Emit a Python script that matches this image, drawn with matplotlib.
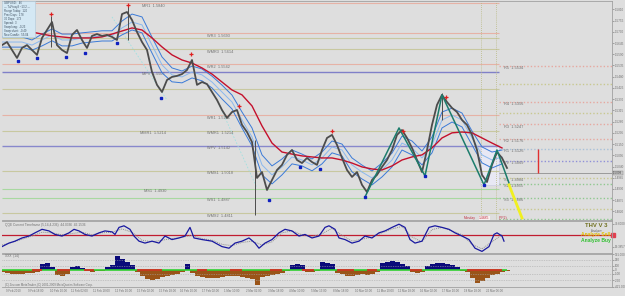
import matplotlib
matplotlib.use('Agg')
import matplotlib.pyplot as plt
from matplotlib.patches import Rectangle
import numpy as np

plt.rcParams['font.family'] = ['Liberation Sans', 'DejaVu Sans']

BG = '#dedede'
GRAY_TXT = '#707070'

# ---- price panel data (bar index, price) ----
close_x = np.arange(0, 506, 5)
close = [1.5635, 1.5650, 1.5611, 1.5572, 1.5621, 1.5635, 1.5611, 1.5587, 1.5670, 1.5709,
         1.5748, 1.5635, 1.5611, 1.5596, 1.5685, 1.5709, 1.5660, 1.5621, 1.5680, 1.5689,
         1.5680, 1.5685, 1.5675, 1.5660, 1.5787, 1.5797, 1.5758, 1.5699, 1.5650, 1.5611,
         1.5503, 1.5440, 1.5405, 1.5464, 1.5479, 1.5484, 1.5493, 1.5513, 1.5562, 1.5440,
         1.5454, 1.5444, 1.5405, 1.5366, 1.5317, 1.5278, 1.5307, 1.5317, 1.5244, 1.5209,
         1.5160, 1.4984, 1.5013, 1.4925, 1.4974, 1.5023, 1.5048, 1.5097, 1.5121, 1.5072,
         1.5057, 1.5082, 1.5062, 1.5048, 1.5121, 1.5180, 1.5195, 1.5146, 1.5082, 1.5023,
         1.4989, 1.5013, 1.4950, 1.4915, 1.4974, 1.4999, 1.5038, 1.5072, 1.5121, 1.5195,
         1.5219, 1.5180, 1.5131, 1.5072, 1.5013, 1.5121, 1.5244, 1.5342, 1.5391, 1.5356,
         1.5327, 1.5307, 1.5268, 1.5244, 1.5195, 1.5121, 1.4999, 1.4964, 1.5048, 1.5111,
         1.5082, 1.5033]

spike_x = [49, 126, 253, 440]
spike_high = [1.5778, 1.5827, 1.5170, 1.5400]
spike_low = [1.5626, 1.5660, 1.4803, 1.5268]

band_x = np.arange(0, 501, 10)
band_mid = [1.5650, 1.5650, 1.5650, 1.5635, 1.5660, 1.5685, 1.5660, 1.5660, 1.5670, 1.5675,
            1.5680, 1.5680, 1.5719, 1.5748, 1.5734, 1.5635, 1.5538, 1.5489, 1.5479, 1.5503,
            1.5489, 1.5454, 1.5405, 1.5356, 1.5268, 1.5185, 1.5048, 1.4999, 1.5038, 1.5087,
            1.5072, 1.5048, 1.5082, 1.5136, 1.5121, 1.5048, 1.5013, 1.4984, 1.5023, 1.5072,
            1.5155, 1.5131, 1.5082, 1.5146, 1.5268, 1.5292, 1.5268, 1.5180, 1.5097, 1.5072,
            1.5087]
band_half = [0.0025, 0.0025, 0.0025, 0.0025, 0.0029, 0.0029, 0.0029, 0.0029, 0.0025, 0.0025,
             0.0025, 0.0025, 0.0034, 0.0039, 0.0039, 0.0039, 0.0039, 0.0034, 0.0029, 0.0029,
             0.0029, 0.0029, 0.0034, 0.0034, 0.0039, 0.0044, 0.0049, 0.0044, 0.0039, 0.0034,
             0.0029, 0.0029, 0.0029, 0.0029, 0.0029, 0.0034, 0.0034, 0.0034, 0.0034, 0.0034,
             0.0034, 0.0034, 0.0034, 0.0039, 0.0039, 0.0034, 0.0034, 0.0034, 0.0039, 0.0039,
             0.0034]

ma_x = np.arange(30, 501, 10)
ma_red = [1.5699, 1.5689, 1.5680, 1.5675, 1.5670, 1.5670, 1.5670, 1.5675, 1.5689, 1.5704,
          1.5719, 1.5709, 1.5670, 1.5626, 1.5587, 1.5562, 1.5547, 1.5523, 1.5493, 1.5454,
          1.5415, 1.5391, 1.5337, 1.5239, 1.5155, 1.5111, 1.5101, 1.5092, 1.5087, 1.5082,
          1.5082, 1.5072, 1.5057, 1.5038, 1.5028, 1.5023, 1.5043, 1.5072, 1.5087, 1.5097,
          1.5131, 1.5180, 1.5205, 1.5209, 1.5205, 1.5180, 1.5155, 1.5131]

frac_up_x = [49, 126, 189, 237, 330, 401, 444]
frac_up = [1.5785, 1.5833, 1.5591, 1.5336, 1.5214, 1.5214, 1.5381]
frac_dn_x = [16, 35, 64, 83, 115, 159, 267, 298, 318, 363, 423, 482]
frac_dn = [1.5557, 1.5572, 1.5577, 1.5596, 1.5645, 1.5376, 1.4876, 1.5038, 1.5028, 1.4891,
           1.4994, 1.4950]

zigzag_x = [363, 397, 423, 440, 482, 495, 507]
zigzag = [1.4891, 1.5229, 1.4994, 1.5391, 1.4950, 1.5121, 1.4959]
proj_x = [507, 520]
proj = [1.4950, 1.4788]

# monthly / weekly pivots (solid, left part)
mw_names = ['MR1', 'WR3', '', 'WMR3', 'WR2', 'MPV', '', 'WR1', 'WMR1', 'WPV', 'WMS1', 'MS1', 'WS1', 'WMS2']
mw_levels = [1.5840, 1.5693, 1.5670, 1.5614, 1.5542, 1.5503, 1.5420, 1.5291, 1.5214, 1.5142,
             1.5018, 1.4930, 1.4887, 1.4811]
mw_colors = ['#e6b2a6', '#e6b2a6', '#c8c8a0', '#c8c8a0', '#e6b2a6', '#8080c8', '#c8c8a0',
             '#e6b2a6', '#c8c8a0', '#8888cc', '#c8c8a0', '#a8d8a0', '#a8d8a0', '#c8c8a0']

# daily pivots (dotted, right part)
d_names = ['R5', '', 'R4', '', 'R3', 'R2', 'R1', 'PV', 'S1', 'S2', 'S3', '', '']
d_levels = [1.5534, 1.5446, 1.5356, 1.5301, 1.5247, 1.5176, 1.5126, 1.5069, 1.4984, 1.4955,
            1.4886, 1.4831, 1.4783]
d_colors = ['#e6a8a0', '#c8c890', '#e6a8a0', '#c8c890', '#e6a8a0', '#e6a8a0', '#a8c0d8',
            '#9090d8', '#c8c890', '#90c890', '#90c890', '#c8c890', '#90c890']

last_price = 1.5008
price_ticks = [1.5810, 1.5755, 1.5700, 1.5645, 1.5590, 1.5535, 1.5480, 1.5425, 1.5370,
               1.5315, 1.5260, 1.5205, 1.5150, 1.5095, 1.5040, 1.4985, 1.4930, 1.4875, 1.4820]

info_lines = ['GBPUSD:   46', '--- TuProxy3 ~13.2 ---', 'Range Today:  120', 'Prev Days:  178',
              '30 Days:  173', 'Spread:  3', 'Swap long:  -0.23', 'Swap short:  -0.49',
              'New Candle:  55:04']

# ---- QQE oscillator ----
qqe_x = [0, 7, 13, 20, 27, 33, 40, 47, 53, 60, 67, 72, 77, 83, 90, 97, 103, 110, 113, 117,
         122, 128, 132, 137, 143, 150, 157, 163, 170, 177, 183, 188, 192, 200, 210, 220, 227,
         233, 240, 247, 253, 257, 263, 270, 277, 283, 290, 297, 303, 310, 317, 323, 327, 333,
         337, 343, 350, 357, 363, 370, 377, 383, 390, 397, 403, 408, 413, 420, 427, 433, 440,
         447, 453, 460, 467, 473, 480, 487, 492, 495, 500, 502]
qqe = [15, 26, 32, 42, 48, 58, 69, 64, 53, 48, 58, 69, 64, 53, 48, 58, 64, 61, 53, 75,
       80, 69, 48, 32, 26, 32, 26, 48, 37, 42, 48, 75, 42, 37, 32, 15, 10,
       26, 32, 42, 26, 10, 26, 37, 58, 69, 64, 48, 53, 42, 48, 75, 80, 69,
       42, 37, 26, 32, 48, 42, 58, 64, 75, 85, 75, 37, 26, 32, 75, 80, 75,
       69, 58, 48, 37, 10, 0, 15, 53, 58, 48, 32]
sig_x = np.arange(0, 501, 10)
qqe_sig = [20, 28, 38, 48, 60, 58, 52, 56, 60, 52, 58, 60, 70, 60, 35, 30, 35, 40, 44, 50,
           40, 35, 22, 18, 28, 32, 20, 30, 58, 64, 52, 46, 55, 72, 50, 32, 38, 45, 58, 70,
           78, 45, 30, 68, 75, 64, 52, 22, 8, 30, 52]

# ---- histogram ----
hist_x = np.arange(0, 506, 5)
hist = [-60, -80, -90, -100, -90, -80, -70, -50, 150, 180, 60, -120, -140, -100, 80, 90, 40,
        -30, -40, -30, -20, 60, 130, 330, 260, 200, 120, -60, -150, -230, -260, -220, -180,
        -150, -120, -100, -60, 140, -80, -150, -180, -200, -210, -190, -170, -160, -140, -150,
        -170, -200, -220, -380, -170, -140, -120, -100, -80, -30, 120, 140, 110, -40, -60, -30,
        190, 170, 140, -80, -110, -140, -150, -130, -100, -120, -90, -60, 170, 200, 210, 190,
        150, 100, -60, -70, -40, 90, 150, 170, 180, 150, 120, 80, -20, -40, -200, -330, -280,
        -200, -130, -90, -60, -30]
red_spans = [(30, 40), (55, 68), (82, 92), (135, 160), (195, 205), (228, 240), (268, 280),
             (300, 312), (335, 352), (365, 375), (408, 420), (465, 500)]

time_labels = ['9 Feb 2010', '9 Feb 18:00', '10 Feb 10:00', '11 Feb 02:00', '11 Feb 18:00',
               '12 Feb 10:00', '15 Feb 02:00', '15 Feb 18:00', '16 Feb 10:00', '17 Feb 02:00',
               '1 Mar 10:00', '2 Mar 02:00', '3 Mar 18:00', '4 Mar 10:00', '5 Mar 13:00',
               '8 Mar 18:00', '10 Mar 02:00', '11 Mar 10:00', '12 Mar 18:00', '16 Mar 02:00',
               '17 Mar 10:00', '18 Mar 18:00', '22 Mar 06:00']


def style_panel(a):
    a.set_facecolor(BG)
    for s in a.spines.values():
        s.set_color('#a0a0a0')
        s.set_linewidth(0.6)
    a.spines['left'].set_visible(False)
    a.yaxis.tick_right()
    a.tick_params(axis='y', labelsize=2.2, colors=GRAY_TXT, length=1.2, width=0.4, pad=0.6)
    a.tick_params(axis='x', labelsize=2.1, colors=GRAY_TXT, length=0)
    a.set_xlim(0, 610)


fig = plt.figure(figsize=(6.25, 2.96), dpi=100, facecolor=BG)
ax = fig.add_axes([2 / 625, 76 / 296, 610 / 625, 219 / 296])
osc = fig.add_axes([2 / 625, 43 / 296, 610 / 625, 32 / 296])
hax = fig.add_axes([2 / 625, 9 / 296, 610 / 625, 33 / 296])
for a in (ax, osc, hax):
    style_panel(a)

# main panel
ax.set_ylim(1.4778, 1.5851)
for lvl, c in zip(mw_levels, mw_colors):
    ax.hlines(lvl, 0, 497, color=c, lw=1.0 if c in ('#8080c8', '#8888cc') else 0.8)
for lvl, c in zip(d_levels, d_colors):
    ax.hlines(lvl, 497, 610, color=c, lw=1.0, linestyles=(0, (1, 1.5)))
ax.hlines(last_price, 497, 610, color='#909090', lw=0.6)

lab_x = {'MR1': 140, 'MPV': 140, 'MS1': 142}
for name, lvl in zip(mw_names, mw_levels):
    if not name:
        continue
    x0 = lab_x.get(name, 205)
    ax.text(x0, lvl - 0.0012, f'{name}  {lvl:.4f}', fontsize=2.8, color=GRAY_TXT, va='center')
ax.text(138, 1.5214 - 0.0012, 'MMR1  1.5214', fontsize=2.8, color=GRAY_TXT, va='center')
for name, lvl in zip(d_names, d_levels):
    if not name:
        continue
    ax.text(502, lvl - 0.0012, f'{name}  {lvl:.4f}', fontsize=2.8, color=GRAY_TXT, va='center')

ax.vlines([479, 494], 1.4778, 1.5851, color='#b8b880', lw=0.6, linestyles=(0, (1, 1.5)))
ax.add_patch(Rectangle((478, 1.4950), 19, 0.0195, facecolor='#e8e8f4', edgecolor='#c8c8e0',
                       lw=0.4, zorder=1))

ax.plot([110, 165], [1.5773, 1.5366], color='#a0e0e0', lw=0.6, ls=(0, (2, 2)))
ax.plot([215, 255], [1.5366, 1.4935], color='#a0e0e0', lw=0.6, ls=(0, (2, 2)))

up = [m + h for m, h in zip(band_mid, band_half)]
lo = [m - h for m, h in zip(band_mid, band_half)]
ax.plot(band_x, up, color='#3a7ad8', lw=0.7, zorder=3)
ax.plot(band_x, lo, color='#3a7ad8', lw=0.7, zorder=3)
ax.plot(band_x, band_mid, color='#8ab8ee', lw=0.7, zorder=3)
ax.plot(ma_x, ma_red, color='#c4102c', lw=1.0, zorder=4)

ax.vlines(spike_x, spike_low, spike_high, color='#4c4c4c', lw=0.7, zorder=5)
ax.plot(close_x, close, color='#4c4c4c', lw=1.3, zorder=5)

ax.plot(zigzag_x, zigzag, color='#1c7c6c', lw=1.1, zorder=6)
ax.plot(proj_x, proj, color='#f0f020', lw=2.0, zorder=6)

ax.plot(frac_up_x, frac_up, '+', color='#e02020', ms=3, mew=0.9, zorder=7)
ax.plot(frac_dn_x, frac_dn, 's', color='#1020c0', ms=1.8, zorder=7)

ax.vlines(536, 1.5008, 1.5126, color='#e03030', lw=1.0)
ax.text(462, 1.4788, 'Monday', fontsize=2.4, color='#c03040', va='center')
ax.text(477, 1.4788, '1.4885', fontsize=2.4, color='#c03040', va='center',
        bbox=dict(facecolor='#f8f0f0', edgecolor='none', pad=0.2))
ax.text(497, 1.4788, '(PP2)', fontsize=2.4, color='#c03040', va='center')

ax.set_yticks(price_ticks)
ax.set_yticklabels([f'{t:.4f}' for t in price_ticks])
ax.set_xticks([])
ax.text(611, last_price, f'{last_price:.4f}', fontsize=2.2, color='#404040', va='center',
        transform=ax.transData, clip_on=False,
        bbox=dict(facecolor='#c8c8c8', edgecolor='#808080', lw=0.3, pad=0.3))

ax.add_patch(Rectangle((0, 1.5675), 33, 0.0176, facecolor='#d4e8f4', edgecolor='#b0c8d8',
                       lw=0.4, zorder=8))
for i, line in enumerate(info_lines):
    ax.text(2, 1.5842 - i * 0.00196, line, fontsize=2.0, color='#405060', va='center',
            zorder=9)

# oscillator panel
osc.set_ylim(-5, 95)
osc.axhline(50, color='#c01c30', lw=0.9)
osc.plot(sig_x, qqe_sig, color='#909090', lw=0.7, ls=(0, (1, 1)))
osc.plot(qqe_x, qqe, color='#1818a0', lw=0.9)
osc.set_yticks([86.4, 14.9])
osc.set_yticklabels(['79.6000', '19.3857'])
osc.set_xticks([])
osc.text(3, 84, 'QQE Current Timeframe (5,14,4.236)  44.0336  46.1536', fontsize=2.3,
         color=GRAY_TXT, va='center')
osc.plot([611], [50], 's', color='#e04050', ms=2.5, clip_on=False)
osc.text(594, 80, 'THV V 3', fontsize=4.3, color='#707020', weight='bold', ha='center',
         va='center')
osc.text(594, 64, 'Analyzer', fontsize=2.0, color='#606060', ha='center', va='center')
osc.text(594, 54, 'Analyze Sell', fontsize=3.6, color='#e0c000', weight='bold', ha='center',
         va='center')
osc.text(594, 35, 'Analyze Buy', fontsize=3.6, color='#30c030', weight='bold', ha='center',
         va='center')

# histogram panel
hax.set_ylim(-421, 391)
for lv in (250, 100, -100, -250):
    hax.axhline(lv, color='#a8a8a8', lw=0.5, ls=(0, (1, 1.5)))
hv = np.array(hist)
hax.bar(hist_x, np.where(hv > 0, hv, 0), width=5, color='#0a0a7a', lw=0)
hax.bar(hist_x, np.where(hv < 0, hv, 0), width=5, color='#9a5418', lw=0)
hax.hlines(0, 0, 505, color='#30d030', lw=1.2)
for a0, a1 in red_spans:
    hax.hlines(0, a0, a1, color='#e02020', lw=1.2)
hax.set_yticks([391, 250, 100, 0, -100, -250, -421])
hax.set_yticklabels(['391.000', '250', '100', '0', '-100', '-250', '-421.000'])
hax.text(3, 330, 'XXX  (14)', fontsize=2.3, color=GRAY_TXT, va='center')
hax.text(3, -380, '(C) Zevcom MetaTrader, (C) 2001-2009 MetaQuotes Software Corp.',
         fontsize=2.1, color=GRAY_TXT, va='center')
tick_pos = 4 + np.arange(len(time_labels)) * 21.8
hax.set_xticks(tick_pos)
hax.set_xticklabels(time_labels, ha='left')
hax.tick_params(axis='x', pad=1.2)

fig.savefig('out.png', dpi=100, facecolor=BG)
